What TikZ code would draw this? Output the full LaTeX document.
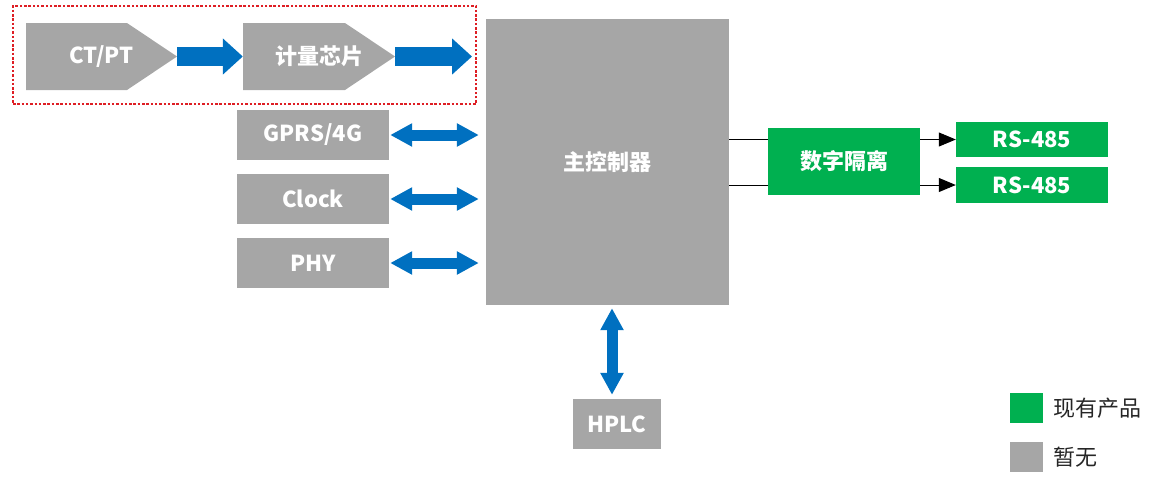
\documentclass[tikz,border=0pt]{standalone}
\usepackage{fontspec}
\setmainfont{Noto Sans CJK SC}
\usepackage{tikz}
\usetikzlibrary{arrows.meta, positioning, calc}
\definecolor{BoxGray}{RGB}{166, 166, 166}
\definecolor{ArrowBlue}{RGB}{0, 112, 192}
\definecolor{ProductGreen}{RGB}{0, 176, 80}
\definecolor{FrameRed}{RGB}{222, 30, 36}
\definecolor{LegendText}{RGB}{38, 38, 38}

\begin{document}
\begin{tikzpicture}[
    x=1pt,
    y=-1pt,
    graybox/.style={
        rectangle,
        fill=BoxGray,
        inner sep=0pt,
        minimum width=152pt,
        minimum height=50pt,
        align=center,
        text=white,
        font=\fontsize{22pt}{24pt}\selectfont\bfseries
    },
    stagebox/.style={
        rectangle,
        inner sep=0pt,
        minimum width=151pt,
        minimum height=67pt,
        text=white,
        font=\fontsize{22pt}{24pt}\selectfont\bfseries,
        path picture={
            \fill[BoxGray]
            (path picture bounding box.north west)
            -- ([xshift=-50pt]path picture bounding box.north east)
            -- (path picture bounding box.east)
            -- ([xshift=-50pt]path picture bounding box.south east)
            -- (path picture bounding box.south west)
            -- cycle;
        }
    },
    greenbox/.style={
        rectangle,
        fill=ProductGreen,
        inner sep=0pt,
        minimum width=152pt,
        minimum height=35pt,
        text=white,
        font=\fontsize{22pt}{24pt}\selectfont\bfseries
    },
    flowarrow/.style={
        draw=ArrowBlue,
        line width=19pt,
        -{Triangle[length=20pt,width=35pt]}
    },
    linkarrow/.style={
        draw=ArrowBlue,
        line width=11pt,
        {Triangle[length=22pt,width=22pt]}-{Triangle[length=22pt,width=22pt]}
    },
    keybox/.style={
        rectangle,
        inner sep=0pt,
        minimum width=33pt,
        minimum height=30pt
    },
    keytext/.style={
        anchor=west,
        inner sep=0pt,
        text=LegendText,
        font=\fontsize{22pt}{24pt}\selectfont
    }
]
\useasboundingbox (0,0) rectangle (1150,496);
% -------------------------------------------------------------
% METERING FRAME
% -------------------------------------------------------------
\node[
    draw=FrameRed,
    line width=1.5pt,
    dash pattern=on 2.5pt off 1.8pt,
    inner sep=0pt,
    minimum width=463pt,
    minimum height=98pt
] (meterFrame) at (244.5,55) {};
% -------------------------------------------------------------
% CT/PT
% -------------------------------------------------------------
\node[stagebox] (ctptNode) at (101.5,56.5) {CT/PT};
% -------------------------------------------------------------
% METERING CHIP
% -------------------------------------------------------------
\node[stagebox, minimum width=152pt] (chipNode) at (319,56.5) {计量芯片};
\coordinate (chipEnd) at (472,56.5);
% -------------------------------------------------------------
% MAIN CONTROLLER
% -------------------------------------------------------------
\node[
    graybox,
    minimum width=243pt,
    minimum height=286pt
] (mainNode) at (607.5,162) {主控制器};
% -------------------------------------------------------------
% PERIPHERALS
% -------------------------------------------------------------
\node[graybox] (gprsNode) at (313,135) {GPRS/4G};
\node[graybox] (clockNode) at (313,199) {Clock};
\node[graybox] (phyNode) at (313,263) {PHY};
\node[graybox, minimum width=88pt] (hplcNode) at (617,424) {HPLC};
% -------------------------------------------------------------
% ISOLATION AND RS-485
% -------------------------------------------------------------
\node[greenbox, minimum height=67pt] (isoNode) at (844,161.5) {数字隔离};
\node[greenbox] (rsANode) at (1032,139.5) {RS-485};
\node[greenbox, minimum height=36pt] (rsBNode) at (1032,185) {RS-485};
% -------------------------------------------------------------
% LEGEND
% -------------------------------------------------------------
\node[keybox, fill=ProductGreen] (keyGreen) at (1026.5,408) {};
\node[keytext] (keyGreenText) at (1053,408) {现有产品};
\node[keybox, fill=BoxGray] (keyGray) at (1026.5,457) {};
\node[keytext] (keyGrayText) at (1053,457) {暂无};
% -------------------------------------------------------------
% SIGNAL FLOW
% -------------------------------------------------------------
\draw[flowarrow] (ctptNode.east) -- (chipNode.west);
\draw[flowarrow] (chipNode.east) -- (chipEnd);
% -------------------------------------------------------------
% BUS LINKS
% -------------------------------------------------------------
\draw[linkarrow, shorten <=1pt, shorten >=7pt]
(gprsNode.east) -- (gprsNode.east -| mainNode.west);
\draw[linkarrow, shorten <=1pt, shorten >=7pt]
(clockNode.east) -- (clockNode.east -| mainNode.west);
\draw[linkarrow, shorten <=1pt, shorten >=7pt]
(phyNode.east) -- (phyNode.east -| mainNode.west);
\draw[linkarrow, shorten <=3pt, shorten >=4pt]
([xshift=4.5pt]mainNode.south) -- ([xshift=4.5pt]mainNode.south |- hplcNode.north);
% -------------------------------------------------------------
% ISOLATED OUTPUTS
% -------------------------------------------------------------
\draw[line width=1pt] (mainNode.east |- rsANode) -- (isoNode.west |- rsANode);
\draw[line width=1pt] (mainNode.east |- rsBNode) -- (isoNode.west |- rsBNode);
\draw[
    line width=1pt,
    -{Triangle[length=17pt,width=14pt]}
]
(isoNode.east |- rsANode) -- (rsANode.west);
\draw[
    line width=1pt,
    -{Triangle[length=17pt,width=14pt]}
]
(isoNode.east |- rsBNode) -- (rsBNode.west);
\end{tikzpicture}
\end{document}
